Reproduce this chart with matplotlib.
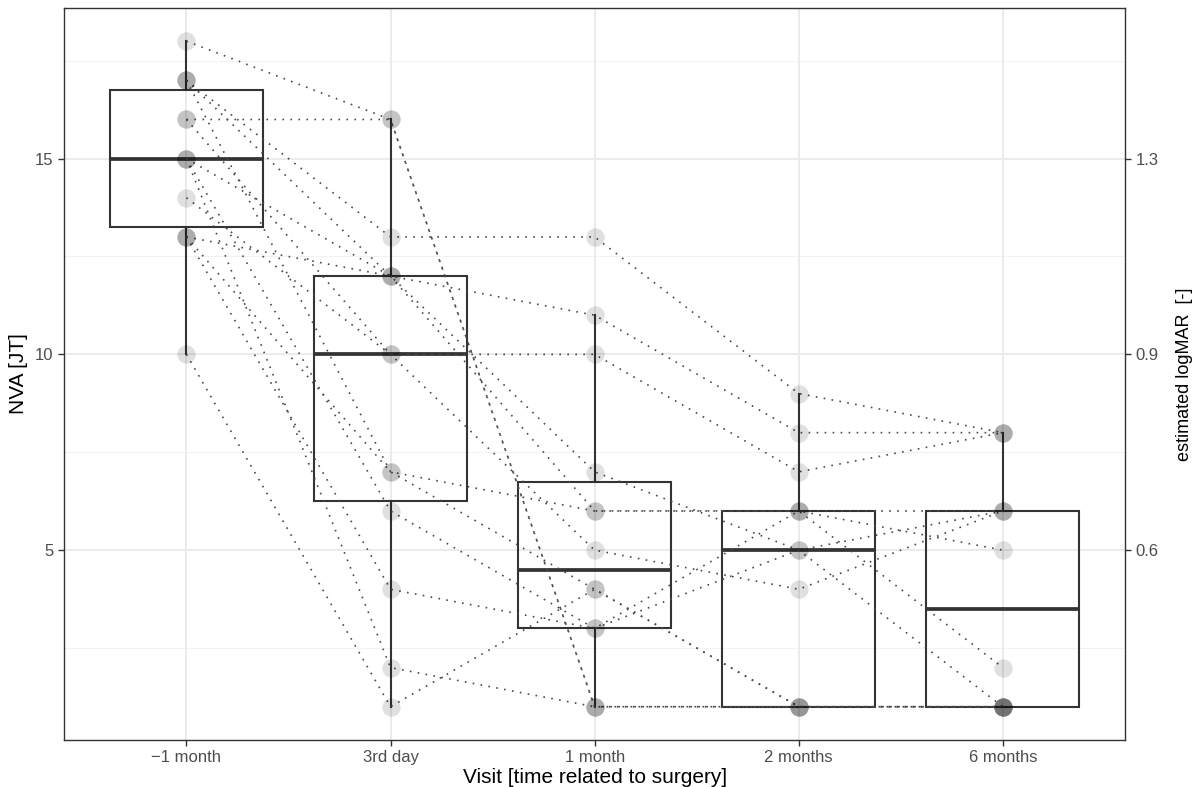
import numpy as np
import matplotlib.pyplot as plt
from matplotlib.ticker import FixedLocator

plt.rcParams['font.family'] = ['Liberation Sans', 'DejaVu Sans']

visits = ['\u22121 month', '3rd day', '1 month', '2 months', '6 months']

# NVA [JT] per patient at each visit (nan = missed visit)
nan = np.nan
p01 = [18, 16, 1, 1, 1]
p02 = [16, 16, 1, 1, 1]
p03 = [17, 13, 13, 9, 8]
p04 = [17, 12, 11, 8, 8]
p05 = [17, 7, 6, 6, 6]
p06 = [16, 10, 10, 7, 8]
p07 = [15, 12, 7, 5, 1]
p08 = [15, 6, 3, 6, 2]
p09 = [15, 2, 1, nan, 1]
p10 = [14, 10, 5, 4, 6]
p11 = [13, 12, 6, 6, 5]
p12 = [13, 7, 4, 1, 1]
p13 = [13, 4, 3, 5, 6]
p14 = [10, 1, 4, 1, 1]
patients = [p01, p02, p03, p04, p05, p06, p07, p08, p09, p10, p11, p12, p13, p14]

# secondary axis (estimated logMAR) labels at JT 5, 10, 15
sec_pos = [5, 10, 15]
sec_labels = ['0.6', '0.9', '1.3']

data = np.array(patients, dtype=float)
xpos = np.arange(1, len(visits) + 1)

fig = plt.figure(figsize=(12.02, 7.87), dpi=100)
ax = fig.add_axes([0.0532, 0.0597, 0.8830, 0.9303])

# grid like theme_bw
for y in [2.5, 7.5, 12.5, 17.5]:
    ax.axhline(y, color='#f2f2f2', lw=0.8, zorder=0)
for y in [5, 10, 15]:
    ax.axhline(y, color='#ebebeb', lw=1.4, zorder=0)
for x in xpos:
    ax.axvline(x, color='#ebebeb', lw=1.4, zorder=0)

# boxes
cols = [data[:, i][~np.isnan(data[:, i])] for i in range(len(visits))]
ax.boxplot(cols, positions=xpos, widths=0.75, showfliers=False, patch_artist=True,
           boxprops=dict(facecolor='none', edgecolor='#333333', lw=1.5),
           whiskerprops=dict(color='#333333', lw=1.5),
           capprops=dict(lw=0),
           medianprops=dict(color='#333333', lw=2.7),
           zorder=2)

# patient trajectories
for row in data:
    ok = ~np.isnan(row)
    ax.plot(xpos[ok], row[ok], color='#4a4a4a', lw=1.2, linestyle=(0, (1, 3.8)), zorder=3)

# points
for i in range(len(visits)):
    ax.scatter(np.full(len(cols[i]), xpos[i]), cols[i], s=175, color='black',
               alpha=0.12, linewidths=0, zorder=4)

ax.set_xlim(0.4, 5.6)
ax.set_ylim(0.15, 18.85)
ax.set_xticks(xpos)
ax.set_xticklabels(visits)
ax.set_yticks([5, 10, 15])
ax.tick_params(axis='both', colors='#333333', labelcolor='#4d4d4d', labelsize=12,
               length=4, width=1)
ax.set_xlabel('Visit [time related to surgery]', fontsize=15, labelpad=2)
ax.set_ylabel('NVA [JT]', fontsize=15, labelpad=5)

for s in ax.spines.values():
    s.set_color('#333333')
    s.set_linewidth(1.0)

ax2 = ax.twinx()
ax2.set_ylim(ax.get_ylim())
ax2.yaxis.set_major_locator(FixedLocator(sec_pos))
ax2.set_yticklabels(sec_labels)
ax2.tick_params(axis='y', colors='#333333', labelcolor='#4d4d4d', labelsize=12,
                length=4, width=1)
ax2.set_ylabel('estimated logMAR  [-]', fontsize=13, rotation=90, labelpad=12)
for s in ax2.spines.values():
    s.set_visible(False)

fig.savefig('out.png', dpi=100)
